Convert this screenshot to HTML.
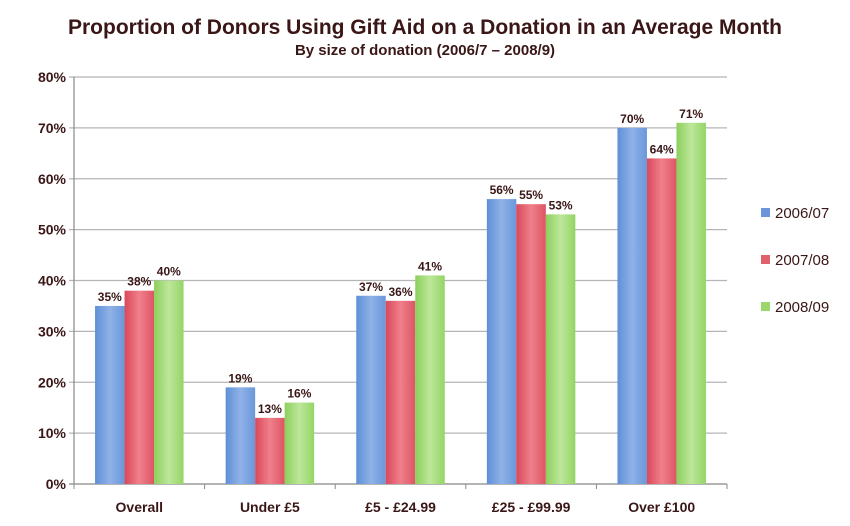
<!DOCTYPE html>
<html><head><meta charset="utf-8"><style>
body{margin:0;background:#fff;}
svg text{font-family:"Liberation Sans",sans-serif;fill:#3a1616;}
</style></head><body>
<svg width="850" height="521" viewBox="0 0 850 521">
<defs>
<linearGradient id="gb" x1="0" x2="1"><stop offset="0" stop-color="#5f8fd6"/><stop offset="0.5" stop-color="#8fb2e8"/><stop offset="1" stop-color="#6b97da"/></linearGradient>
<linearGradient id="gr" x1="0" x2="1"><stop offset="0" stop-color="#d9485a"/><stop offset="0.5" stop-color="#f0808c"/><stop offset="1" stop-color="#dd5564"/></linearGradient>
<linearGradient id="gg" x1="0" x2="1"><stop offset="0" stop-color="#8ccf5c"/><stop offset="0.5" stop-color="#bde79a"/><stop offset="1" stop-color="#94d565"/></linearGradient>
</defs>
<text x="425" y="34" text-anchor="middle" font-size="21" font-weight="bold">Proportion of Donors Using Gift Aid on a Donation in an Average Month</text>
<text x="425" y="55" text-anchor="middle" font-size="15" font-weight="bold">By size of donation (2006/7 – 2008/9)</text>
<g id="grid"></g>
<g id="bars"></g>
<g id="legend"></g>
</svg>
<script>
const categories=["Overall","Under £5","£5 - £24.99","£25 - £99.99","Over £100"];
const series=["2006/07","2007/08","2008/09"];
const s0607=[35,19,37,56,70];
const s0708=[38,13,36,55,64];
const s0809=[40,16,41,53,71];
const yTicks=[0,10,20,30,40,50,60,70,80];
const NS="http://www.w3.org/2000/svg";
const x0=74,x1=727,y0=484,y1=77,yMax=80;
const y=v=>y0-(v/yMax)*(y0-y1);
const bandW=(x1-x0)/categories.length;
const xc=i=>x0+bandW*(i+0.5);
const barW=29.5;
function mk(tag,attrs,parent){const e=document.createElementNS(NS,tag);for(const k in attrs)e.setAttribute(k,attrs[k]);parent.appendChild(e);return e;}
const grid=document.getElementById('grid');
yTicks.forEach(t=>{
  const l=mk('line',{x1:x0-5,x2:x1,y1:y(t),y2:y(t),stroke:t===0?'#888':'#b5b5b5','stroke-width':1.2},grid);
  
  
  const tx=mk('text',{x:x0-8,y:y(t)+5,'text-anchor':'end','font-size':14,'font-weight':'bold'},grid);
  tx.textContent=t+'%';
  
  
});
const ax=mk('line',{x1:x0,x2:x0,y1:y1,y2:y0,stroke:'#888','stroke-width':1.2},grid);


for(let i=0;i<=categories.length;i++){
  const tk=mk('line',{x1:x0+bandW*i,x2:x0+bandW*i,y1:y0,y2:y0+5,stroke:'#888'},grid);
  
  
}
const bars=document.getElementById('bars');
const data=[s0607,s0708,s0809];
const fills=['url(#gb)','url(#gr)','url(#gg)'];
categories.forEach((c,i)=>{
  const lab=mk('text',{x:xc(i),y:y0+28,'text-anchor':'middle','font-size':14,'font-weight':'bold'},bars);
  lab.textContent=c;
  
  
  data.forEach((d,s)=>{
    const bx=xc(i)+(s-1.5)*barW;
    const r=mk('rect',{x:bx,y:y(d[i]),width:barW,height:y0-y(d[i]),fill:fills[s]},bars);
    
    
    const vt=mk('text',{x:bx+barW/2,y:y(d[i])-5,'text-anchor':'middle','font-size':12,'font-weight':'bold'},bars);
    vt.textContent=d[i]+'%';
    
    
  });
});
const leg=document.getElementById('legend');
const lc=['#6b97da','#e0606e','#9ad86c'];
series.forEach((s,k)=>{
  const ly=213+k*47;
  const sq=mk('rect',{x:761,y:ly-5,width:9,height:9,fill:lc[k]},leg);
  
  
  const t=mk('text',{x:775,y:ly+5,'font-size':15},leg);
  t.textContent=s;
  
  
});
</script>
</body></html>
